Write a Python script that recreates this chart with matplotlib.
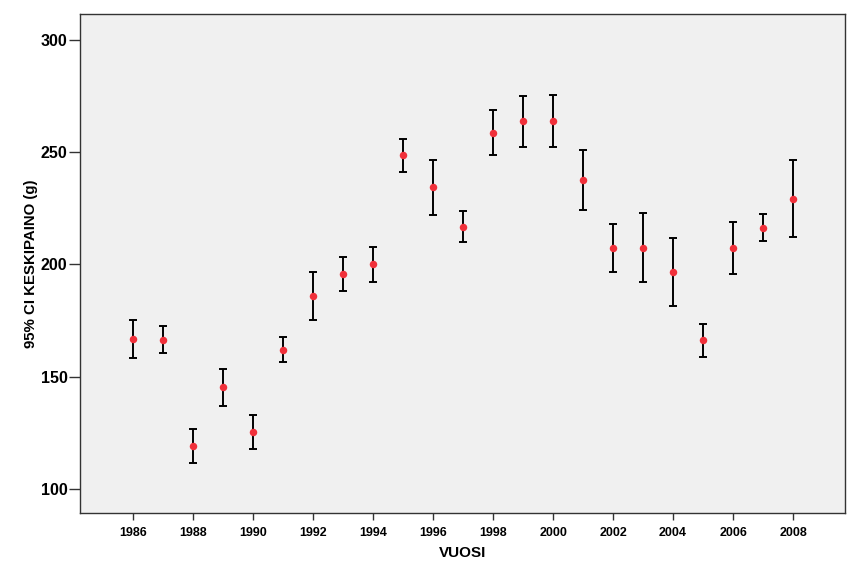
import matplotlib
matplotlib.use("Agg")
import matplotlib.pyplot as plt

years = [1986, 1987, 1988, 1989, 1990, 1991, 1992, 1993, 1994, 1995, 1996, 1997,
         1998, 1999, 2000, 2001, 2002, 2003, 2004, 2005, 2006, 2007, 2008]
means = [166.7, 166.4, 119.1, 145.2, 125.3, 162.0, 185.7, 195.7, 200.0, 248.5, 234.4, 216.6,
         258.6, 263.6, 263.6, 237.7, 207.3, 207.4, 196.6, 166.3, 207.1, 216.3, 229.2]
upper = [175.0, 172.5, 126.7, 153.2, 132.7, 167.8, 196.4, 203.1, 207.5, 255.9, 246.6, 223.6,
         268.5, 274.8, 275.2, 251.0, 217.8, 222.8, 211.8, 173.4, 218.7, 222.5, 246.3]
lower = [158.4, 160.3, 111.4, 137.0, 118.0, 156.3, 175.0, 188.2, 192.3, 241.1, 222.1, 209.8,
         248.5, 252.4, 252.2, 224.0, 196.7, 192.3, 181.4, 158.9, 195.7, 210.2, 212.3]
xticks = list(range(1986, 2009, 2))
yticks = [100, 150, 200, 250, 300]

plt.rcParams['font.family'] = ['Liberation Sans', 'DejaVu Sans']

fig = plt.figure(figsize=(8.61, 5.70), dpi=100)
ax = fig.add_axes([80/861, 1-513/570, (845-80)/861, (513-14)/570])
ax.set_facecolor('#f0f0f0')

yerr = [[m - l for m, l in zip(means, lower)], [u - m for m, u in zip(means, upper)]]
ax.errorbar(years, means, yerr=yerr, fmt='none', ecolor='black', elinewidth=1.4,
            capsize=2.8, capthick=1.4, zorder=2)
ax.plot(years, means, 'o', color='#f0303a', markersize=5.4, markeredgewidth=0, zorder=3)

ax.set_xlim(1984.23, 2009.73)
ax.set_ylim(89.3, 311.4)
ax.set_xticks(xticks)
ax.set_yticks(yticks)
ax.set_xticklabels([str(t) for t in xticks], fontsize=9, fontweight='bold')
ax.set_yticklabels([str(t) for t in yticks], fontsize=11.5, fontweight='bold')
ax.tick_params(axis='y', direction='out', length=8, width=1, color='#333333', pad=1)
ax.tick_params(axis='x', direction='out', length=5, width=1, color='#333333', pad=5)
for s in ax.spines.values():
    s.set_color('#333333')
    s.set_linewidth(1)

ax.set_xlabel('VUOSI', fontsize=11, fontweight='bold', labelpad=5)
ax.set_ylabel('95% CI KESKIPAINO (g)', fontsize=10.8, fontweight='bold', labelpad=2)

fig.savefig('out.png', dpi=100, facecolor='white')
